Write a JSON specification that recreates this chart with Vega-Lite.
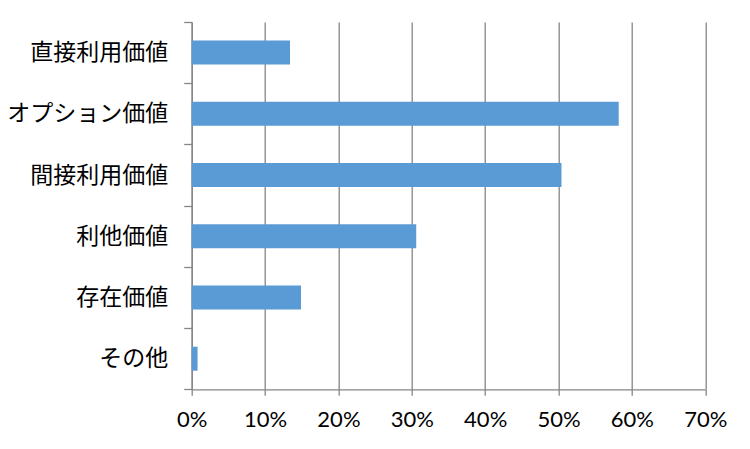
{
  "$schema": "https://vega.github.io/schema/vega-lite/v6.json",
  "width": 513.6,
  "height": 367.3,
  "autosize": "none",
  "padding": {"left": 191.7, "top": 22, "right": 44.7, "bottom": 59.7},
  "background": "white",
  "config": {"view": {"stroke": null}},
  "data": {
    "values": [
      {"category": "直接利用価値", "value": 0.134},
      {"category": "オプション価値", "value": 0.582},
      {"category": "間接利用価値", "value": 0.504},
      {"category": "利他価値", "value": 0.306},
      {"category": "存在価値", "value": 0.149},
      {"category": "その他", "value": 0.008}
    ]
  },
  "mark": {"type": "bar", "color": "#5B9BD5", "height": {"band": 0.392}},
  "encoding": {
    "y": {
      "field": "category",
      "type": "nominal",
      "sort": null,
      "scale": {"paddingInner": 0, "paddingOuter": 0},
      "axis": {
        "title": null,
        "tickBand": "extent",
        "domainColor": "#868686",
        "domainWidth": 1.3,
        "tickColor": "#868686",
        "tickWidth": 1.3,
        "tickSize": 8,
        "labelPadding": 16,
        "labelFont": "Noto Sans CJK JP",
        "labelFontSize": 23,
        "labelLimit": 300,
        "labelColor": "#000000",
        "grid": false
      }
    },
    "x": {
      "field": "value",
      "type": "quantitative",
      "scale": {"domain": [0, 0.7], "nice": false},
      "axis": {
        "title": null,
        "format": ".0%",
        "values": [0, 0.1, 0.2, 0.3, 0.4, 0.5, 0.6, 0.7],
        "labelOverlap": false,
        "labelFlush": false,
        "grid": true,
        "gridColor": "#868686",
        "gridWidth": 1.3,
        "domainColor": "#868686",
        "domainWidth": 1.3,
        "tickColor": "#868686",
        "tickWidth": 1.3,
        "tickSize": 6,
        "labelPadding": 14,
        "labelFont": "Lato",
        "labelFontSize": 22,
        "labelColor": "#000000"
      }
    }
  }
}
